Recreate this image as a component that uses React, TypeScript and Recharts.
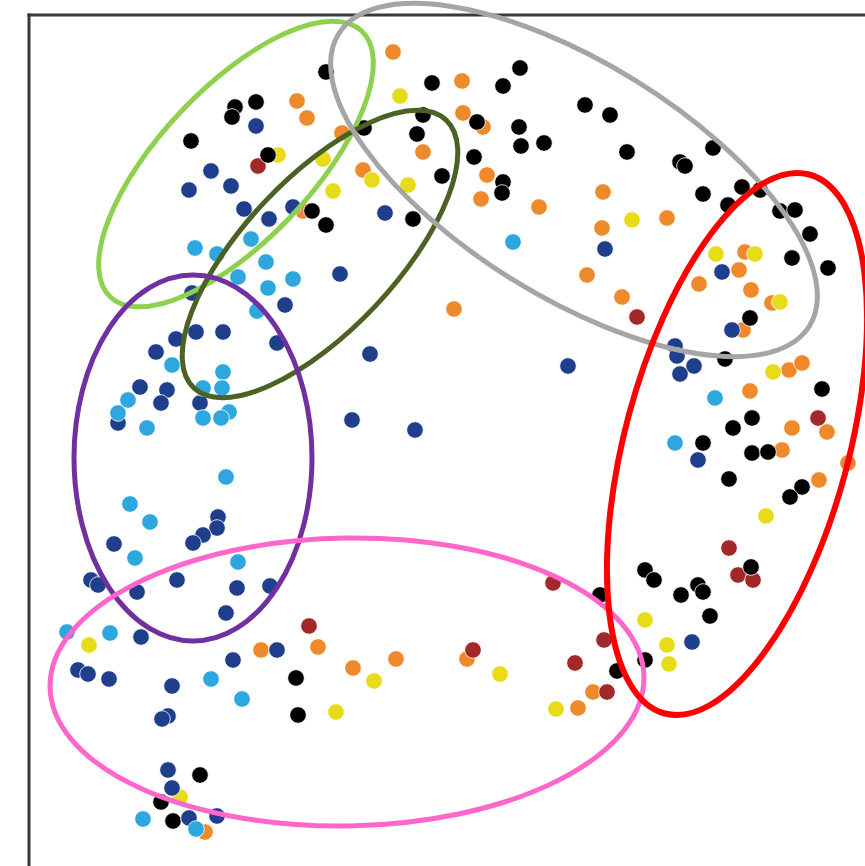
import { ScatterChart, Scatter, XAxis, YAxis, ReferenceLine } from "recharts";

const W = 865;
const H = 866;

// point positions, one list per cluster colour (chart units, y grows downward)
const navyPts: [number, number][] = [
  [256, 126], [211, 171], [189, 190], [231, 186], [244, 209], [269, 219], [293, 207],
  [385, 213], [605, 249], [722, 272], [732, 330], [675, 346], [677, 356], [694, 366],
  [680, 374], [568, 366], [340, 274], [285, 305], [192, 293], [176, 339], [196, 332],
  [223, 332], [156, 352], [277, 343], [140, 387], [167, 390], [161, 403], [200, 403],
  [118, 423], [370, 354], [352, 420], [415, 430], [218, 517], [217, 528], [203, 535],
  [193, 543], [114, 544], [91, 580], [98, 585], [177, 580], [137, 592], [237, 588],
  [270, 586], [226, 613], [141, 637], [277, 650], [78, 670], [88, 674], [109, 679],
  [233, 660], [172, 686], [168, 716], [162, 719], [168, 770], [172, 788], [189, 818],
  [217, 816], [698, 460], [692, 642],
];

const skyPts: [number, number][] = [
  [195, 248], [217, 254], [251, 239], [266, 262], [238, 277], [268, 288], [293, 279],
  [257, 311], [513, 242], [172, 365], [223, 372], [128, 400], [203, 388], [222, 388],
  [118, 413], [229, 412], [203, 418], [221, 418], [147, 428], [226, 477], [130, 504],
  [150, 522], [135, 558], [238, 562], [67, 632], [110, 633], [211, 679], [242, 699],
  [143, 819], [196, 829], [715, 398], [675, 443],
];

const blackPts: [number, number][] = [
  [235, 107], [232, 117], [256, 102], [191, 141], [268, 155], [326, 72], [432, 83],
  [503, 86], [520, 68], [585, 105], [610, 115], [423, 115], [477, 122], [519, 127],
  [417, 134], [364, 128], [521, 146], [544, 143], [474, 157], [442, 176], [503, 182],
  [502, 193], [312, 211], [326, 225], [413, 219], [627, 152], [713, 148], [680, 162],
  [685, 166], [703, 194], [742, 187], [760, 190], [728, 205], [780, 211], [795, 210],
  [810, 234], [792, 258], [828, 268], [750, 318], [725, 359], [822, 389], [752, 418],
  [733, 428], [703, 443], [752, 453], [768, 452], [729, 479], [802, 487], [790, 497],
  [751, 567], [645, 570], [654, 580], [600, 595], [681, 595], [698, 585], [703, 592],
  [710, 616], [645, 660], [617, 671], [296, 678], [298, 715], [200, 775], [161, 802],
  [173, 821],
];

const orangePts: [number, number][] = [
  [393, 52], [462, 81], [297, 101], [307, 118], [463, 113], [483, 127], [342, 133],
  [423, 152], [363, 170], [487, 175], [481, 199], [539, 207], [303, 211], [603, 192],
  [602, 228], [667, 218], [587, 275], [622, 297], [745, 252], [739, 270], [699, 284],
  [751, 290], [772, 303], [743, 330], [454, 309], [789, 370], [802, 363], [750, 391],
  [792, 428], [827, 432], [782, 450], [848, 463], [819, 480], [261, 650], [318, 647],
  [353, 668], [396, 659], [467, 659], [593, 692], [578, 708], [205, 832],
];

const yellowPts: [number, number][] = [
  [400, 96], [278, 155], [323, 159], [372, 180], [408, 185], [333, 191], [632, 220],
  [716, 254], [755, 254], [780, 302], [773, 372], [766, 516], [645, 620], [667, 645],
  [669, 664], [89, 645], [374, 681], [336, 712], [500, 674], [556, 709], [180, 797],
];

const redPts: [number, number][] = [
  [258, 166], [637, 317], [818, 418], [729, 548], [738, 575], [753, 580], [553, 583],
  [309, 626], [473, 650], [604, 640], [575, 663], [607, 692],
];

// grouping ellipses: centre, semi-axes (chart units), rotation in degrees
const groupNames = ["green", "olive", "gray", "purple", "pink", "red"];
const groupCx = [236, 320, 574, 193, 347, 737];
const groupCy = [164, 254, 180, 458, 682, 444];
const groupRx = [76, 76, 277, 119, 297, 112];
const groupRy = [183, 184, 117, 183, 144, 279];
const groupAngle = [43.4, 43.3, 31.8, 0, -1, 15];

const ringColor: Record<string, string> = {
  green: "#8ed14f",
  olive: "#4c6124",
  gray: "#a5a5a5",
  purple: "#7030a0",
  pink: "#ff66cc",
  red: "#ff0000",
};

const toPoints = (list: [number, number][]) => list.map(([x, y]) => ({ x, y }));

const ellipses = groupNames.map((name, i) => ({
  name,
  x: groupCx[i],
  y: groupCy[i],
  rx: groupRx[i],
  ry: groupRy[i],
  angle: groupAngle[i],
}));

const series = [
  { key: "orange", fill: "#ee8a2b", pts: orangePts },
  { key: "red", fill: "#a3282a", pts: redPts },
  { key: "yellow", fill: "#e8dc18", pts: yellowPts },
  { key: "black", fill: "#000000", pts: blackPts },
  { key: "navy", fill: "#1f3f8c", pts: navyPts },
  { key: "sky", fill: "#2ea7de", pts: skyPts },
];

const X_MAX = W;
const Y_MAX = H;
const unit = W / X_MAX;

const Dot = (props: any) => {
  const { cx, cy, fill } = props;
  return <circle cx={cx} cy={cy} r={8.3} fill={fill} stroke="#ffffff" strokeWidth={0.8} />;
};

const Ring = (props: any) => {
  const { cx, cy, payload } = props;
  return (
    <ellipse
      cx={cx}
      cy={cy}
      rx={payload.rx * unit}
      ry={payload.ry * unit}
      transform={`rotate(${payload.angle} ${cx} ${cy})`}
      fill="none"
      stroke={ringColor[payload.name]}
      strokeWidth={payload.name === "red" ? 6 : 5}
    />
  );
};

export default function App() {
  return (
    <div style={{ position: "fixed", left: 0, top: 0, width: W, height: H, background: "#fff" }}>
      <ScatterChart width={W} height={H} margin={{ top: 0, right: 0, bottom: 0, left: 0 }}>
        <XAxis type="number" dataKey="x" domain={[0, X_MAX]} hide />
        <YAxis type="number" dataKey="y" domain={[0, Y_MAX]} reversed hide />

        {/* plot frame: only the left and top edges fall inside the view */}
        <ReferenceLine
          segment={[{ x: 29, y: 13.5 }, { x: 29, y: Y_MAX }]}
          stroke="#3a3a3a"
          strokeWidth={3}
        />
        <ReferenceLine
          segment={[{ x: 27.5, y: 15 }, { x: X_MAX, y: 15 }]}
          stroke="#3a3a3a"
          strokeWidth={3}
        />

        {series.map((s) => (
          <Scatter
            key={s.key}
            data={toPoints(s.pts)}
            fill={s.fill}
            shape={Dot}
            isAnimationActive={false}
          />
        ))}

        <Scatter data={ellipses} shape={Ring} isAnimationActive={false} />
      </ScatterChart>
    </div>
  );
}
